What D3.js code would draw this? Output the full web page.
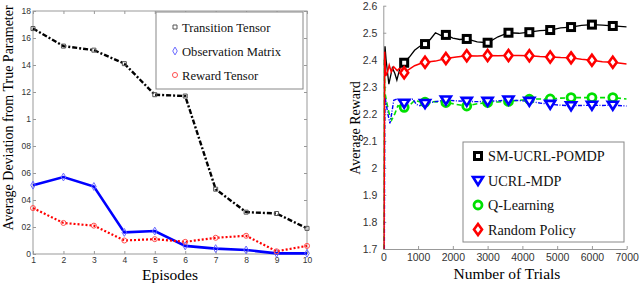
<!DOCTYPE html>
<html>
<head>
<meta charset="utf-8">
<script src="https://cdn.jsdelivr.net/npm/d3@7"></script>
<style>
  body { margin: 0; background: #fff; }
  svg { display: block; }
  .tick text { fill: #333; }
</style>
</head>
<body>
<div id="chart"></div>
<script>
// left panel: deviation per episode
const episodes = [1, 2, 3, 4, 5, 6, 7, 8, 9, 10];
const transitionTensor = [16.7, 15.4, 15.1, 14.1, 11.8, 11.7, 4.8, 3.1, 3.0, 1.9];
const observationMatrix = [5.1, 5.7, 5.0, 1.6, 1.7, 0.6, 0.4, 0.3, 0.05, 0.05];
const rewardTensor = [3.4, 2.3, 2.1, 1.0, 1.1, 0.9, 1.2, 1.35, 0.2, 0.6];
const leftYTicks = [0, 2, 4, 6, 8, 10, 12, 14, 16, 18];
const leftYLabels = ['0', '02', '04', '06', '08', '1', '12', '14', '16', '18'];

// right panel: average reward vs trials, [trial, reward]
const smUcrlPomdp = [[30, 2.38], [50, 2.45], [80, 2.40], [160, 2.31], [260, 2.37], [330, 2.35], [390, 2.325], [480, 2.37],
  [600, 2.389], [750, 2.41], [900, 2.435], [1050, 2.45], [1200, 2.458], [1350, 2.475], [1500, 2.50], [1650, 2.49],
  [1800, 2.492], [2000, 2.48], [2200, 2.475], [2400, 2.477], [2700, 2.466], [3000, 2.463], [3300, 2.485], [3600, 2.50],
  [3900, 2.498], [4200, 2.502], [4500, 2.508], [4800, 2.51], [5100, 2.518], [5400, 2.521], [5700, 2.527], [6000, 2.53],
  [6300, 2.528], [6600, 2.525], [7000, 2.522]];
const ucrlMdp = [[30, 1.70], [40, 2.14], [50, 2.26], [80, 2.24], [130, 2.20], [190, 2.165], [240, 2.20], [300, 2.25],
  [400, 2.255], [500, 2.245], [600, 2.239], [750, 2.25], [850, 2.255], [950, 2.235], [1050, 2.23], [1200, 2.238],
  [1500, 2.245], [1800, 2.251], [2100, 2.248], [2400, 2.246], [2700, 2.245], [3000, 2.246], [3300, 2.248], [3600, 2.251],
  [3900, 2.249], [4200, 2.246], [4500, 2.24], [4800, 2.235], [5100, 2.232], [5400, 2.23], [5700, 2.231], [6000, 2.232],
  [6300, 2.231], [6600, 2.232], [7000, 2.229]];
const qLearning = [[10, 1.70], [25, 1.85], [35, 2.40], [45, 2.28], [100, 2.24], [170, 2.20], [240, 2.177], [330, 2.20],
  [420, 2.23], [600, 2.224], [750, 2.23], [900, 2.25], [1050, 2.245], [1200, 2.243], [1500, 2.245], [1800, 2.242],
  [2100, 2.235], [2400, 2.229], [2700, 2.237], [3000, 2.242], [3300, 2.244], [3600, 2.246], [3900, 2.25], [4200, 2.254],
  [4500, 2.255], [4800, 2.255], [5100, 2.258], [5400, 2.26], [5700, 2.26], [6000, 2.26], [6300, 2.26], [6600, 2.26],
  [7000, 2.255]];
const randomPolicy = [[20, 1.70], [40, 2.43], [70, 2.34], [125, 2.356], [170, 2.38], [230, 2.355], [300, 2.374],
  [400, 2.36], [480, 2.37], [600, 2.352], [750, 2.365], [900, 2.378], [1050, 2.385], [1200, 2.391], [1500, 2.395],
  [1800, 2.405], [2100, 2.41], [2400, 2.415], [2700, 2.414], [3000, 2.416], [3300, 2.415], [3600, 2.416], [3900, 2.416],
  [4200, 2.415], [4500, 2.412], [4800, 2.41], [5100, 2.408], [5400, 2.407], [5700, 2.402], [6000, 2.398], [6300, 2.393],
  [6600, 2.391], [7000, 2.384]];
const markerEvery = 600;
const rightXTicks = [0, 1000, 2000, 3000, 4000, 5000, 6000, 7000];
const rightYTicks = [1.7, 1.8, 1.9, 2, 2.1, 2.2, 2.3, 2.4, 2.5, 2.6];

const serif = 'Liberation Serif, Times New Roman, serif';
const sans = 'Liberation Sans, Arial, sans-serif';

const svg = d3.select('#chart').append('svg')
  .attr('width', 640)
  .attr('height', 297);

// ---------- left panel ----------
const lx = d3.scaleLinear().domain([1, 10]).range([33, 307]);
const ly = d3.scaleLinear().domain([0, 18]).range([254, 11]);
const left = svg.append('g');

left.append('rect')
  .attr('x', lx(1)).attr('y', ly(18))
  .attr('width', lx(10) - lx(1)).attr('height', ly(0) - ly(18))
  .attr('fill', 'none').attr('stroke', '#999').attr('stroke-width', 1);

left.append('g')
  .attr('transform', `translate(0,${ly(0)})`)
  .call(d3.axisBottom(lx).tickValues(episodes).tickFormat(d3.format('d')).tickSizeInner(-3).tickSizeOuter(0).tickPadding(3));
left.append('g')
  .attr('transform', `translate(${lx(1)},0)`)
  .call(d3.axisLeft(ly).tickValues(leftYTicks).tickFormat((d, i) => leftYLabels[i]).tickSizeInner(-3).tickSizeOuter(0).tickPadding(2));
left.append('g')
  .attr('transform', `translate(0,${ly(18)})`)
  .call(d3.axisTop(lx).tickValues(episodes).tickFormat('').tickSizeInner(-3).tickSizeOuter(0));
left.append('g')
  .attr('transform', `translate(${lx(10)},0)`)
  .call(d3.axisRight(ly).tickValues(leftYTicks).tickFormat('').tickSizeInner(-3).tickSizeOuter(0));
left.selectAll('.domain').remove();
left.selectAll('.tick line').attr('stroke', '#999');
left.selectAll('.tick text').attr('font-family', sans).attr('font-size', 8.5).attr('fill', '#444');

const lline = d3.line().x((d, i) => lx(episodes[i])).y(d => ly(d));

const leftSeries = [
  { values: transitionTensor, color: '#000', width: 2.4, dash: '5,2,2,2', shape: 'square', mc: '#555' },
  { values: observationMatrix, color: '#0000ff', width: 2.6, dash: null, shape: 'diamond', mc: '#6a6aff' },
  { values: rewardTensor, color: '#ff0000', width: 2.2, dash: '2,2', shape: 'circle', mc: '#ff5050' }
];
const smallSym = {
  square: d3.symbol().type(d3.symbolSquare).size(16),
  diamond: d3.symbol().type(d3.symbolDiamond).size(18),
  circle: d3.symbol().type(d3.symbolCircle).size(20)
};
leftSeries.forEach(s => {
  left.append('path')
    .datum(s.values)
    .attr('d', lline)
    .attr('fill', 'none')
    .attr('stroke', s.color)
    .attr('stroke-width', s.width)
    .attr('stroke-dasharray', s.dash);
  left.selectAll(null)
    .data(s.values)
    .enter()
    .append('path')
    .attr('d', smallSym[s.shape])
    .attr('transform', (d, i) => `translate(${lx(episodes[i])},${ly(d)})`)
    .attr('fill', 'none')
    .attr('stroke', s.mc)
    .attr('stroke-width', 1);
});

// left legend
const lleg = left.append('g');
lleg.append('rect')
  .attr('x', 156).attr('y', 12).attr('width', 147).attr('height', 77)
  .attr('fill', '#fff').attr('stroke', '#888').attr('stroke-width', 1);
const lLegItems = [
  { label: 'Transition Tensor', shape: 'square', mc: '#555' },
  { label: 'Observation Matrix', shape: 'diamond', mc: '#6a6aff' },
  { label: 'Reward Tensor', shape: 'circle', mc: '#ff5050' }
];
lLegItems.forEach((it, i) => {
  const y = 27 + i * 24;
  lleg.append('path')
    .attr('d', smallSym[it.shape])
    .attr('transform', `translate(175,${y})`)
    .attr('fill', 'none').attr('stroke', it.mc).attr('stroke-width', 1);
  lleg.append('text')
    .attr('x', 182).attr('y', y + 4.5)
    .attr('font-family', serif).attr('font-size', 12.6)
    .attr('fill', '#111')
    .text(it.label);
});

left.append('text')
  .attr('x', 170).attr('y', 280)
  .attr('text-anchor', 'middle')
  .attr('font-family', serif).attr('font-size', 15.5)
  .text('Episodes');
left.append('text')
  .attr('transform', 'translate(13,118) rotate(-90)')
  .attr('text-anchor', 'middle')
  .attr('font-family', serif).attr('font-size', 14)
  .text('Average Deviation from True Parameter');

// ---------- right panel ----------
const rx = d3.scaleLinear().domain([0, 7000]).range([383.3, 626.7]);
const ry = d3.scaleLinear().domain([1.7, 2.6]).range([249, 5.7]);
const right = svg.append('g');

right.append('defs').append('clipPath').attr('id', 'rclip')
  .append('rect')
  .attr('x', rx(0)).attr('y', ry(2.6) - 6)
  .attr('width', rx(7000) - rx(0)).attr('height', ry(1.7) - ry(2.6) + 6);

right.append('g')
  .attr('transform', `translate(0,${ry(1.7)})`)
  .call(d3.axisBottom(rx).tickValues(rightXTicks).tickFormat(d3.format('d')).tickSizeInner(-3).tickSizeOuter(0).tickPadding(5));
right.append('g')
  .attr('transform', `translate(${rx(0)},0)`)
  .call(d3.axisLeft(ry).tickValues(rightYTicks).tickFormat(d => d === 2 ? '2' : d3.format('.1f')(d)).tickSizeInner(-3).tickSizeOuter(0).tickPadding(6));
right.selectAll('.domain').attr('stroke', '#999');
right.selectAll('.tick line').attr('stroke', '#999');
right.selectAll('.tick text').attr('font-family', sans).attr('font-size', 10.5).attr('fill', '#333');

const rline = d3.line().x(d => rx(d[0])).y(d => ry(d[1]));
const plot = right.append('g').attr('clip-path', 'url(#rclip)');

const rightSeries = [
  { name: 'Q-Learning', data: qLearning, color: '#00e000', dash: '5,3', width: 1.6, shape: 'circle' },
  { name: 'UCRL-MDP', data: ucrlMdp, color: '#0000ff', dash: '4,1.5,1,1.5', width: 1.4, shape: 'triangle' },
  { name: 'SM-UCRL-POMDP', data: smUcrlPomdp, color: '#000', dash: null, width: 1.3, shape: 'square' },
  { name: 'Random Policy', data: randomPolicy, color: '#ff0000', dash: null, width: 1.5, shape: 'diamond' }
];

function marker(g, shape, color, x, y) {
  if (shape === 'square') {
    g.append('rect').attr('x', x - 3.5).attr('y', y - 3.5).attr('width', 7).attr('height', 7)
      .attr('fill', '#fff').attr('stroke', color).attr('stroke-width', 3);
  } else if (shape === 'circle') {
    g.append('circle').attr('cx', x).attr('cy', y).attr('r', 4)
      .attr('fill', '#fff').attr('stroke', color).attr('stroke-width', 2.8);
  } else if (shape === 'triangle') {
    g.append('path').attr('d', `M${x - 5},${y - 3.5}L${x + 5},${y - 3.5}L${x},${y + 4.5}Z`)
      .attr('fill', '#fff').attr('stroke', color).attr('stroke-width', 2.6).attr('stroke-linejoin', 'miter');
  } else {
    g.append('path').attr('d', `M${x},${y - 5.5}L${x + 4},${y}L${x},${y + 5.5}L${x - 4},${y}Z`)
      .attr('fill', '#fff').attr('stroke', color).attr('stroke-width', 2.6);
  }
}

rightSeries.forEach(s => {
  plot.append('path')
    .datum(s.data)
    .attr('d', rline)
    .attr('fill', 'none')
    .attr('stroke', s.color)
    .attr('stroke-width', s.width)
    .attr('stroke-dasharray', s.dash);
});
rightSeries.forEach(s => {
  const mg = right.append('g');
  s.data.filter(d => d[0] > 0 && d[0] % markerEvery === 0 && d[0] < 7000)
    .forEach(d => marker(mg, s.shape, s.color, rx(d[0]), ry(d[1])));
});

// right legend
const rleg = right.append('g');
rleg.append('rect')
  .attr('x', 463).attr('y', 142).attr('width', 161).attr('height', 100)
  .attr('fill', '#fff').attr('stroke', '#888').attr('stroke-width', 1);
const rLegItems = [
  { label: 'SM-UCRL-POMDP', shape: 'square', color: '#000' },
  { label: 'UCRL-MDP', shape: 'triangle', color: '#0000ff' },
  { label: 'Q-Learning', shape: 'circle', color: '#00e000' },
  { label: 'Random Policy', shape: 'diamond', color: '#ff0000' }
];
rLegItems.forEach((it, i) => {
  const y = 156 + i * 24.5;
  marker(rleg, it.shape, it.color, 478, y);
  rleg.append('text')
    .attr('x', 488).attr('y', y + 5)
    .attr('font-family', serif).attr('font-size', 14.2)
    .attr('fill', '#111')
    .text(it.label);
});

right.append('text')
  .attr('x', 507).attr('y', 279)
  .attr('text-anchor', 'middle')
  .attr('font-family', serif).attr('font-size', 15.5)
  .text('Number of Trials');
right.append('text')
  .attr('transform', 'translate(360,128) rotate(-90)')
  .attr('text-anchor', 'middle')
  .attr('font-family', serif).attr('font-size', 14)
  .text('Average Reward');
</script>
</body>
</html>
